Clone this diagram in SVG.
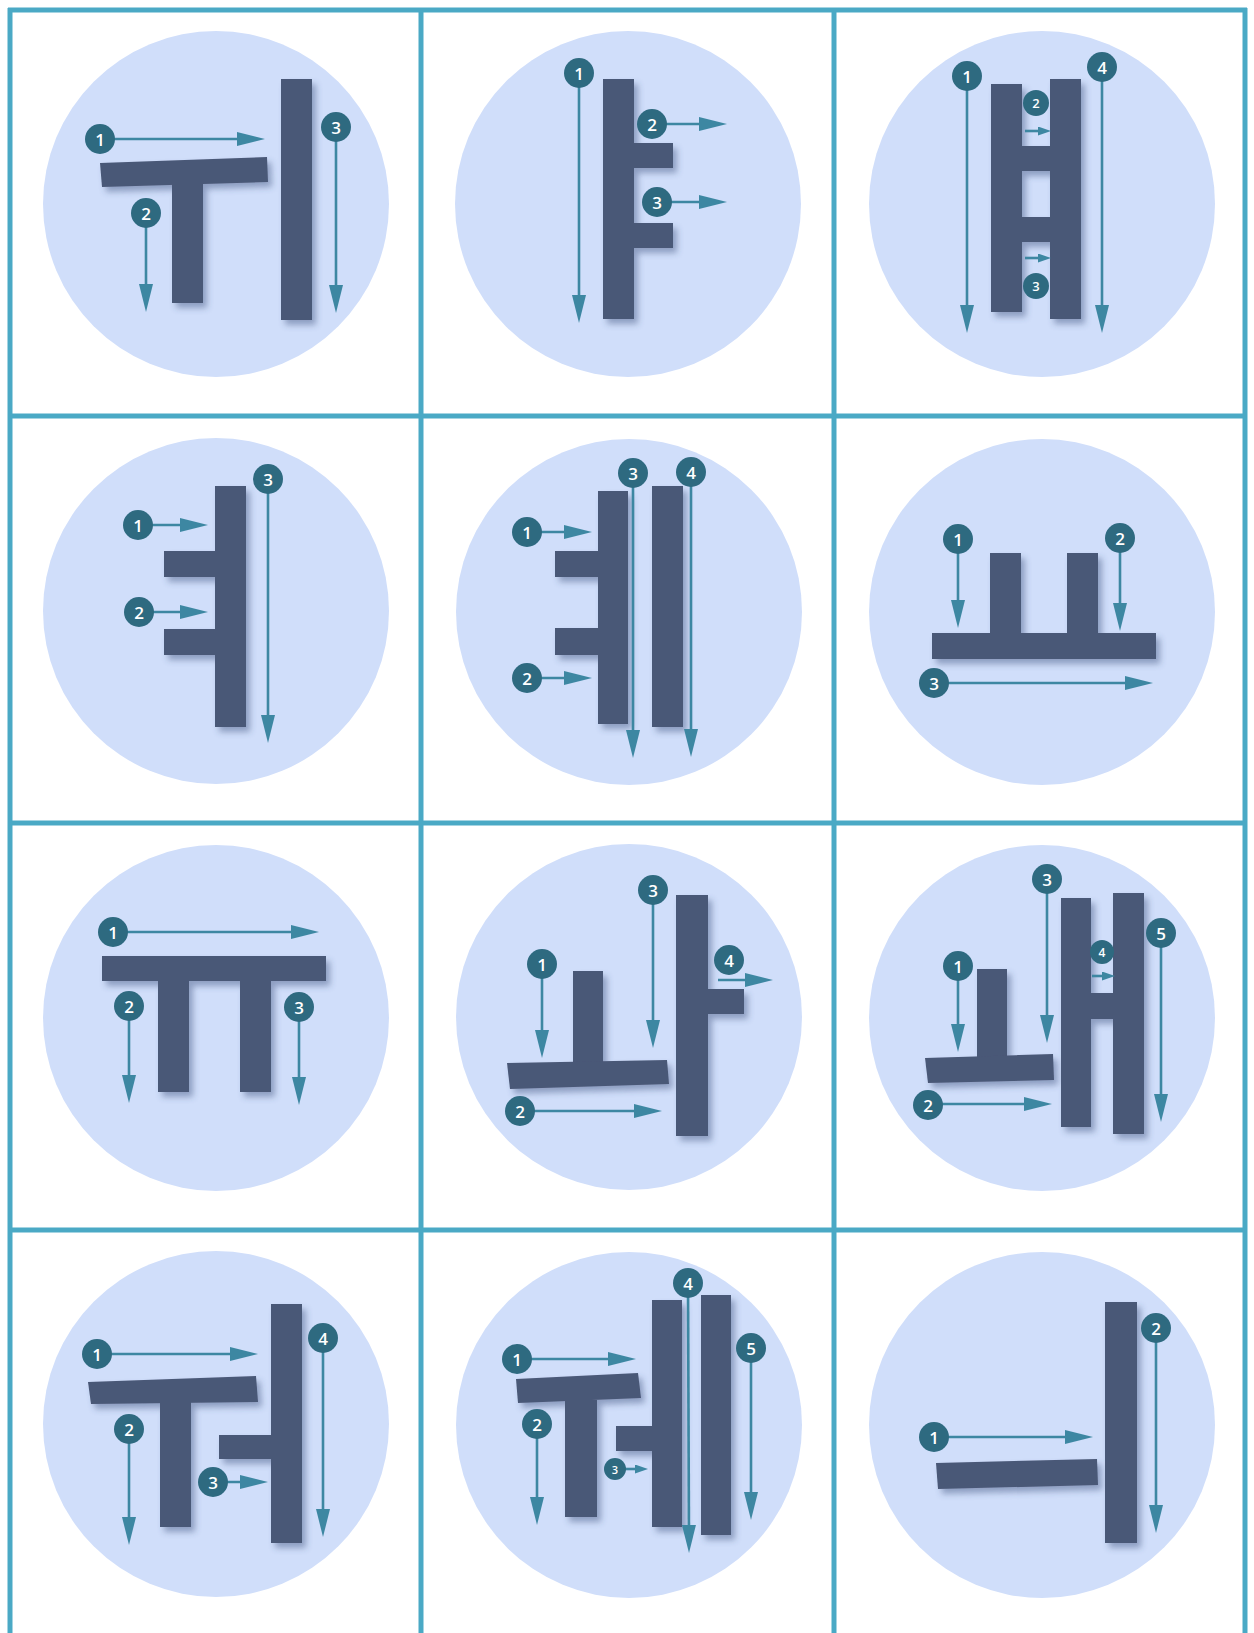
<svg xmlns="http://www.w3.org/2000/svg" width="1254" height="1633" viewBox="0 0 1254 1633">
<style>
.bg{fill:#d0defa}
.gl{fill:#4a5877}
.ar{stroke:#3d87a2;stroke-width:2.6;fill:none}
.big{marker-end:url(#ah)}
.sm{marker-end:url(#ahs)}
.bd circle{fill:#2e6a80}
.bd text{fill:#ffffff;font-family:"Open Sans","Noto Sans","Liberation Sans",sans-serif;font-weight:600;text-anchor:middle;dominant-baseline:central}
.n text{font-size:17px}
.s text{font-size:13px}
.grid line{stroke:#4aa9c5;stroke-width:5}
</style>
<defs>
<marker id="ah" markerUnits="userSpaceOnUse" markerWidth="28" markerHeight="14" refX="18" refY="7" orient="auto"><path d="M0,0 L28,7 L0,14 Z" fill="#3d87a2"/></marker>
<marker id="ahs" markerUnits="userSpaceOnUse" markerWidth="13" markerHeight="9" refX="7" refY="4.5" orient="auto"><path d="M0,0 L13,4.5 L0,9 Z" fill="#3d87a2"/></marker>
<filter id="sh" x="-30%" y="-30%" width="160%" height="160%"><feDropShadow dx="4" dy="5" stdDeviation="3" flood-color="#3e4f7a" flood-opacity="0.45"/></filter>
</defs>
<rect width="1254" height="1633" fill="#ffffff"/>
<g class="grid">
<line x1="10" y1="8" x2="10" y2="1633"/>
<line x1="421" y1="8" x2="421" y2="1633"/>
<line x1="834" y1="8" x2="834" y2="1633"/>
<line x1="1245" y1="8" x2="1245" y2="1633"/>
<line x1="8" y1="10" x2="1247" y2="10"/>
<line x1="8" y1="416" x2="1247" y2="416"/>
<line x1="8" y1="823" x2="1247" y2="823"/>
<line x1="8" y1="1230" x2="1247" y2="1230"/>
</g>
<g id="cell-wi">
<circle class="bg" cx="216" cy="204" r="173"/>
<g class="gl" filter="url(#sh)">
<polygon points="100,163 267,157 268,182 102,187"/>
<rect x="172" y="180" width="31" height="123"/>
<rect x="281" y="79" width="31" height="241"/>
</g>
</g>
<g id="cell-ya">
<circle class="bg" cx="628" cy="204" r="173"/>
<g class="gl" filter="url(#sh)">
<rect x="603" y="79" width="31" height="240"/>
<rect x="630" y="143" width="43" height="25"/>
<rect x="630" y="223" width="43" height="25"/>
</g>
</g>
<g id="cell-yae">
<circle class="bg" cx="1042" cy="204" r="173"/>
<g class="gl" filter="url(#sh)">
<rect x="991" y="84" width="31" height="228"/>
<rect x="1050" y="79" width="31" height="240"/>
<rect x="1020" y="146" width="32" height="25"/>
<rect x="1020" y="217" width="32" height="25"/>
</g>
</g>
<g id="cell-yeo">
<circle class="bg" cx="216" cy="611" r="173"/>
<g class="gl" filter="url(#sh)">
<rect x="215" y="486" width="31" height="241"/>
<rect x="164" y="551" width="53" height="26"/>
<rect x="164" y="629" width="53" height="26"/>
</g>
</g>
<g id="cell-ye">
<circle class="bg" cx="629" cy="612" r="173"/>
<g class="gl" filter="url(#sh)">
<rect x="598" y="491" width="30" height="233"/>
<rect x="652" y="486" width="31" height="241"/>
<rect x="555" y="551" width="45" height="26"/>
<rect x="555" y="628" width="45" height="27"/>
</g>
</g>
<g id="cell-yo">
<circle class="bg" cx="1042" cy="612" r="173"/>
<g class="gl" filter="url(#sh)">
<rect x="932" y="633" width="224" height="26"/>
<rect x="990" y="553" width="31" height="82"/>
<rect x="1067" y="553" width="31" height="82"/>
</g>
</g>
<g id="cell-yu">
<circle class="bg" cx="216" cy="1018" r="173"/>
<g class="gl" filter="url(#sh)">
<rect x="102" y="956" width="224" height="25"/>
<rect x="158" y="979" width="31" height="113"/>
<rect x="240" y="979" width="31" height="113"/>
</g>
</g>
<g id="cell-wa">
<circle class="bg" cx="629" cy="1017" r="173"/>
<g class="gl" filter="url(#sh)">
<rect x="573" y="971" width="30" height="92"/>
<polygon points="507,1063 667,1060 669,1084 510,1089"/>
<rect x="676" y="895" width="32" height="241"/>
<rect x="706" y="989" width="38" height="25"/>
</g>
</g>
<g id="cell-wae">
<circle class="bg" cx="1042" cy="1018" r="173"/>
<g class="gl" filter="url(#sh)">
<rect x="977" y="969" width="30" height="88"/>
<polygon points="925,1058 1053,1054 1054,1080 928,1083"/>
<rect x="1061" y="898" width="30" height="229"/>
<rect x="1113" y="893" width="31" height="241"/>
<rect x="1089" y="993" width="26" height="26"/>
</g>
</g>
<g id="cell-wo">
<circle class="bg" cx="216" cy="1424" r="173"/>
<g class="gl" filter="url(#sh)">
<polygon points="88,1382 256,1376 258,1402 91,1404"/>
<rect x="160" y="1400" width="31" height="127"/>
<rect x="271" y="1304" width="31" height="239"/>
<rect x="219" y="1435" width="54" height="24"/>
</g>
</g>
<g id="cell-we">
<circle class="bg" cx="629" cy="1425" r="173"/>
<g class="gl" filter="url(#sh)">
<polygon points="516,1379 638,1373 641,1398 518,1403"/>
<rect x="565" y="1400" width="32" height="117"/>
<rect x="652" y="1300" width="30" height="227"/>
<rect x="701" y="1295" width="30" height="240"/>
<rect x="616" y="1426" width="38" height="25"/>
</g>
</g>
<g id="cell-ui">
<circle class="bg" cx="1042" cy="1425" r="173"/>
<g class="gl" filter="url(#sh)">
<rect x="1105" y="1302" width="32" height="241"/>
<polygon points="936,1463 1097,1459 1098,1485 938,1489"/>
</g>
</g>
<g id="connectors" class="ar">
<line class="big" x1="100" y1="139" x2="255" y2="139"/>
<line class="big" x1="146" y1="213" x2="146" y2="302"/>
<line class="big" x1="336" y1="127" x2="336" y2="303"/>
<line class="big" x1="579" y1="73" x2="579" y2="313"/>
<line class="big" x1="652" y1="124" x2="717" y2="124"/>
<line class="big" x1="657" y1="202" x2="717" y2="202"/>
<line class="big" x1="967" y1="76" x2="967" y2="323"/>
<line class="big" x1="1102" y1="67" x2="1102" y2="323"/>
<line class="sm" x1="1025" y1="131" x2="1045" y2="131"/>
<line class="sm" x1="1025" y1="258" x2="1045" y2="258"/>
<line class="big" x1="138" y1="525" x2="198" y2="525"/>
<line class="big" x1="139" y1="612" x2="198" y2="612"/>
<line class="big" x1="268" y1="479" x2="268" y2="733"/>
<line class="big" x1="527" y1="532" x2="582" y2="532"/>
<line class="big" x1="527" y1="678" x2="582" y2="678"/>
<line class="big" x1="633" y1="473" x2="633" y2="748"/>
<line class="big" x1="691" y1="472" x2="691" y2="747"/>
<line class="big" x1="958" y1="539" x2="958" y2="618"/>
<line class="big" x1="1120" y1="538" x2="1120" y2="621"/>
<line class="big" x1="934" y1="683" x2="1143" y2="683"/>
<line class="big" x1="113" y1="932" x2="309" y2="932"/>
<line class="big" x1="129" y1="1006" x2="129" y2="1093"/>
<line class="big" x1="299" y1="1007" x2="299" y2="1095"/>
<line class="big" x1="542" y1="964" x2="542" y2="1048"/>
<line class="big" x1="520" y1="1111" x2="652" y2="1111"/>
<line class="big" x1="653" y1="890" x2="653" y2="1038"/>
<line class="big" x1="718" y1="980" x2="763" y2="980"/>
<line class="big" x1="958" y1="966" x2="958" y2="1042"/>
<line class="big" x1="928" y1="1104" x2="1042" y2="1104"/>
<line class="big" x1="1047" y1="879" x2="1047" y2="1033"/>
<line class="sm" x1="1092" y1="976" x2="1109" y2="976"/>
<line class="big" x1="1161" y1="933" x2="1161" y2="1112"/>
<line class="big" x1="97" y1="1354" x2="248" y2="1354"/>
<line class="big" x1="129" y1="1429" x2="129" y2="1535"/>
<line class="big" x1="213" y1="1482" x2="258" y2="1482"/>
<line class="big" x1="323" y1="1338" x2="323" y2="1527"/>
<line class="big" x1="517" y1="1359" x2="626" y2="1359"/>
<line class="big" x1="537" y1="1424" x2="537" y2="1515"/>
<line class="sm" x1="615" y1="1469" x2="642" y2="1469"/>
<line class="big" x1="688" y1="1283" x2="689" y2="1543"/>
<line class="big" x1="751" y1="1348" x2="751" y2="1510"/>
<line class="big" x1="934" y1="1437" x2="1083" y2="1437"/>
<line class="big" x1="1156" y1="1328" x2="1156" y2="1523"/>
</g>
<g id="badges" class="bd">
<g class="n" id="b-wi-1"><circle cx="100" cy="139" r="15"/><text x="100" y="139">1</text></g>
<g class="n" id="b-wi-2"><circle cx="146" cy="213" r="15"/><text x="146" y="213">2</text></g>
<g class="n" id="b-wi-3"><circle cx="336" cy="127" r="15"/><text x="336" y="127">3</text></g>
<g class="n" id="b-ya-1"><circle cx="579" cy="73" r="15"/><text x="579" y="73">1</text></g>
<g class="n" id="b-ya-2"><circle cx="652" cy="124" r="15"/><text x="652" y="124">2</text></g>
<g class="n" id="b-ya-3"><circle cx="657" cy="202" r="15"/><text x="657" y="202">3</text></g>
<g class="n" id="b-yae-1"><circle cx="967" cy="76" r="15"/><text x="967" y="76">1</text></g>
<g class="s" id="b-yae-2"><circle cx="1036" cy="103" r="13"/><text x="1036" y="103">2</text></g>
<g class="s" id="b-yae-3"><circle cx="1036" cy="286" r="13"/><text x="1036" y="286">3</text></g>
<g class="n" id="b-yae-4"><circle cx="1102" cy="67" r="15"/><text x="1102" y="67">4</text></g>
<g class="n" id="b-yeo-1"><circle cx="138" cy="525" r="15"/><text x="138" y="525">1</text></g>
<g class="n" id="b-yeo-2"><circle cx="139" cy="612" r="15"/><text x="139" y="612">2</text></g>
<g class="n" id="b-yeo-3"><circle cx="268" cy="479" r="15"/><text x="268" y="479">3</text></g>
<g class="n" id="b-ye-1"><circle cx="527" cy="532" r="15"/><text x="527" y="532">1</text></g>
<g class="n" id="b-ye-2"><circle cx="527" cy="678" r="15"/><text x="527" y="678">2</text></g>
<g class="n" id="b-ye-3"><circle cx="633" cy="473" r="15"/><text x="633" y="473">3</text></g>
<g class="n" id="b-ye-4"><circle cx="691" cy="472" r="15"/><text x="691" y="472">4</text></g>
<g class="n" id="b-yo-1"><circle cx="958" cy="539" r="15"/><text x="958" y="539">1</text></g>
<g class="n" id="b-yo-2"><circle cx="1120" cy="538" r="15"/><text x="1120" y="538">2</text></g>
<g class="n" id="b-yo-3"><circle cx="934" cy="683" r="15"/><text x="934" y="683">3</text></g>
<g class="n" id="b-yu-1"><circle cx="113" cy="932" r="15"/><text x="113" y="932">1</text></g>
<g class="n" id="b-yu-2"><circle cx="129" cy="1006" r="15"/><text x="129" y="1006">2</text></g>
<g class="n" id="b-yu-3"><circle cx="299" cy="1007" r="15"/><text x="299" y="1007">3</text></g>
<g class="n" id="b-wa-1"><circle cx="542" cy="964" r="15"/><text x="542" y="964">1</text></g>
<g class="n" id="b-wa-2"><circle cx="520" cy="1111" r="15"/><text x="520" y="1111">2</text></g>
<g class="n" id="b-wa-3"><circle cx="653" cy="890" r="15"/><text x="653" y="890">3</text></g>
<g class="n" id="b-wa-4"><circle cx="729" cy="960" r="15"/><text x="729" y="960">4</text></g>
<g class="n" id="b-wae-1"><circle cx="958" cy="966" r="15"/><text x="958" y="966">1</text></g>
<g class="n" id="b-wae-2"><circle cx="928" cy="1105" r="15"/><text x="928" y="1105">2</text></g>
<g class="n" id="b-wae-3"><circle cx="1047" cy="879" r="15"/><text x="1047" y="879">3</text></g>
<g class="s" id="b-wae-4"><circle cx="1102" cy="952" r="12"/><text x="1102" y="952" style="font-size:12px">4</text></g>
<g class="n" id="b-wae-5"><circle cx="1161" cy="933" r="15"/><text x="1161" y="933">5</text></g>
<g class="n" id="b-wo-1"><circle cx="97" cy="1354" r="15"/><text x="97" y="1354">1</text></g>
<g class="n" id="b-wo-2"><circle cx="129" cy="1429" r="15"/><text x="129" y="1429">2</text></g>
<g class="n" id="b-wo-3"><circle cx="213" cy="1482" r="15"/><text x="213" y="1482">3</text></g>
<g class="n" id="b-wo-4"><circle cx="323" cy="1338" r="15"/><text x="323" y="1338">4</text></g>
<g class="n" id="b-we-1"><circle cx="517" cy="1359" r="15"/><text x="517" y="1359">1</text></g>
<g class="n" id="b-we-2"><circle cx="537" cy="1424" r="15"/><text x="537" y="1424">2</text></g>
<g class="s" id="b-we-3"><circle cx="615" cy="1469" r="11"/><text x="615" y="1469" style="font-size:11px">3</text></g>
<g class="n" id="b-we-4"><circle cx="688" cy="1283" r="15"/><text x="688" y="1283">4</text></g>
<g class="n" id="b-we-5"><circle cx="751" cy="1348" r="15"/><text x="751" y="1348">5</text></g>
<g class="n" id="b-ui-1"><circle cx="934" cy="1437" r="15"/><text x="934" y="1437">1</text></g>
<g class="n" id="b-ui-2"><circle cx="1156" cy="1328" r="15"/><text x="1156" y="1328">2</text></g>
</g>
</svg>
